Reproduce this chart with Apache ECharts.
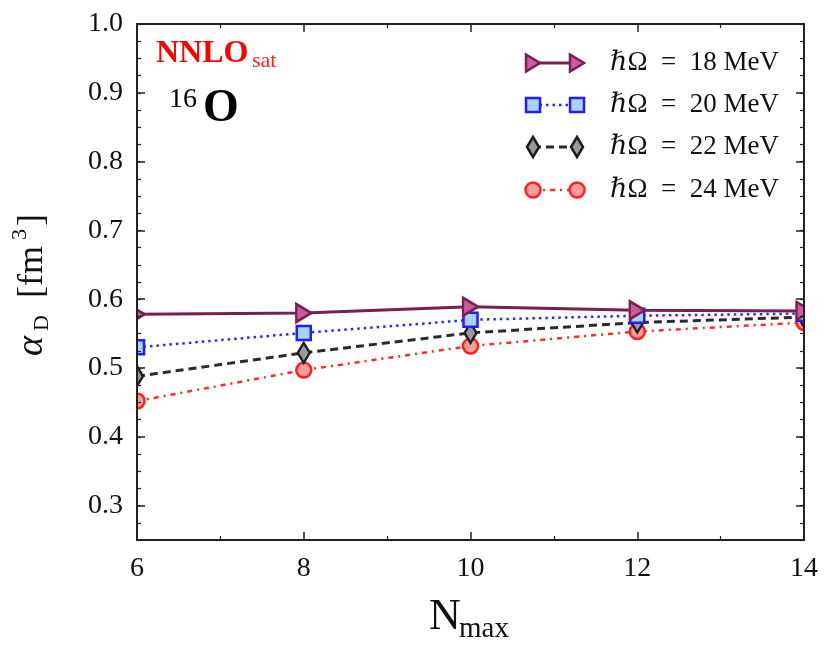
<!DOCTYPE html>
<html>
<head>
<meta charset="utf-8">
<script src="https://cdn.jsdelivr.net/npm/echarts@6/dist/echarts.min.js"></script>
<style>
html,body{margin:0;padding:0;background:#fff;}
#chart{width:831px;height:658px;}
</style>
</head>
<body>
<div id="chart"></div>
<script>
// ---- data ----
const nmax = [6, 8, 10, 12, 14];
const hw18 = [0.578, 0.580, 0.589, 0.584, 0.583];
const hw20 = [0.530, 0.551, 0.570, 0.576, 0.579];
const hw22 = [0.488, 0.522, 0.551, 0.566, 0.574];
const hw24 = [0.452, 0.497, 0.532, 0.553, 0.566];
const seriesNames = ['ℏΩ\u2002=\u200218 MeV', 'ℏΩ\u2002=\u200220 MeV', 'ℏΩ\u2002=\u200222 MeV', 'ℏΩ\u2002=\u200224 MeV'];
const xTicks = [6, 8, 10, 12, 14];
const yTicks = [0.3, 0.4, 0.5, 0.6, 0.7, 0.8, 0.9, 1.0];

const FONT = '"Liberation Serif", "DejaVu Serif", serif';
const chart = echarts.init(document.getElementById('chart'));

function pairs(ys) { return nmax.map((x, i) => [x, ys[i]]); }

const styles = [
  {line: '#7a1f50', stroke: '#7a1f50', fill: '#cc5c9e', type: 'solid', width: 3, symbol: 'triangle', size: [18, 15], rot: -90},
  {line: '#2a2aff', stroke: '#1e1eff', fill: '#a8d2ff', type: [2.5, 4], width: 2.5, symbol: 'rect', size: 14, rot: 0},
  {line: '#2b2b2b', stroke: '#1e1e1e', fill: '#9a9a9a', type: [8, 5], width: 3, symbol: 'diamond', size: [12, 20], rot: 0},
  {line: '#ff2a2a', stroke: '#ff2020', fill: '#ff9c9c', type: [5, 5, 2, 5], width: 2.5, symbol: 'circle', size: 15, rot: 0}
];
const datasets = [hw18, hw20, hw22, hw24];

const series = datasets.map((d, i) => ({
  name: seriesNames[i],
  type: 'line',
  data: pairs(d),
  xAxisIndex: 0,
  yAxisIndex: 0,
  clip: false,
  symbol: styles[i].symbol,
  symbolSize: styles[i].size,
  symbolRotate: styles[i].rot,
  showAllSymbol: true,
  z: 2 + (3 - i),
  lineStyle: {color: styles[i].line, width: styles[i].width, type: styles[i].type},
  itemStyle: {color: styles[i].fill, borderColor: styles[i].stroke, borderWidth: 2.5},
  emphasis: {disabled: true},
  animation: false
}));

const axisLine = {show: true, onZero: false, lineStyle: {color: '#222', width: 2}};
const yBase = {type: 'value', min: 0.25, max: 1.0, interval: 0.025, splitLine: {show: false}, axisLine: axisLine, z: 10};

// legend graphics
const legendRows = [63, 105, 147, 190];
const legendX1 = 533, legendX2 = 577;
const graphics = [];
// white masks outside the plot area (clip markers at frame), below axes
graphics.push({type: 'rect', shape: {x: 0, y: 0, width: 136, height: 658}, style: {fill: '#fff'}, z: 8});
graphics.push({type: 'rect', shape: {x: 805, y: 0, width: 26, height: 658}, style: {fill: '#fff'}, z: 8});

function markerShape(i, cx, cy) {
  const s = styles[i];
  const st = {fill: s.fill, stroke: s.stroke, lineWidth: 2.5};
  if (s.symbol === 'triangle') {
    return {type: 'polygon', shape: {points: [[cx - 7, cy - 8.5], [cx + 7, cy], [cx - 7, cy + 8.5]]}, style: st, z: 12};
  } else if (s.symbol === 'rect') {
    return {type: 'rect', shape: {x: cx - 7, y: cy - 7, width: 14, height: 14}, style: st, z: 12};
  } else if (s.symbol === 'diamond') {
    return {type: 'polygon', shape: {points: [[cx, cy - 10], [cx + 6, cy], [cx, cy + 10], [cx - 6, cy]]}, style: st, z: 12};
  }
  return {type: 'circle', shape: {cx: cx, cy: cy, r: 7.5}, style: st, z: 12};
}
legendRows.forEach((y, i) => {
  const s = styles[i];
  graphics.push({type: 'line', shape: {x1: legendX1, y1: y, x2: legendX2, y2: y},
    style: {stroke: s.line, lineWidth: s.width, lineDash: s.type === 'solid' ? null : s.type}, z: 11});
  graphics.push(markerShape(i, legendX1, y));
  graphics.push(markerShape(i, legendX2, y));
  graphics.push({type: 'text', x: 610, y: y, style: {text: seriesNames[i], font: '27px ' + FONT, fill: '#111', align: 'left', verticalAlign: 'middle'}, z: 12});
});

// annotations
graphics.push({type: 'text', x: 156, y: 54, style: {text: 'NNLO', font: 'bold 32px ' + FONT, fill: '#ff0000', verticalAlign: 'middle'}, z: 12});
graphics.push({type: 'text', x: 252, y: 61, style: {text: 'sat', font: '22px ' + FONT, fill: '#ff2020', verticalAlign: 'middle'}, z: 12});
graphics.push({type: 'text', x: 169, y: 100, style: {text: '16', font: '28px ' + FONT, fill: '#000', verticalAlign: 'middle'}, z: 12});
graphics.push({type: 'text', x: 203, y: 109, style: {text: 'O', font: 'bold 46px ' + FONT, fill: '#000', verticalAlign: 'middle'}, z: 12});

// x axis name N_max
graphics.push({type: 'text', x: 429, y: 617, style: {text: 'N', font: '44px ' + FONT, fill: '#111', verticalAlign: 'middle'}, z: 12});
graphics.push({type: 'text', x: 459, y: 629, style: {text: 'max', font: '29px ' + FONT, fill: '#111', verticalAlign: 'middle'}, z: 12});

// y axis name alpha_D [fm^3] (rotated)
graphics.push({type: 'group', x: 0, y: 0, rotation: Math.PI / 2, z: 12, children: [
  {type: 'text', x: -356, y: 32, style: {text: 'α', font: 'italic 38px ' + FONT, fill: '#111', verticalAlign: 'middle'}, z: 12},
  {type: 'text', x: -331, y: 42, style: {text: 'D', font: '22px ' + FONT, fill: '#111', verticalAlign: 'middle'}, z: 12},
  {type: 'text', x: -298, y: 33, style: {text: '[fm', font: '36px ' + FONT, fill: '#111', verticalAlign: 'middle'}, z: 12},
  {type: 'text', x: -240, y: 20, style: {text: '3', font: '22px ' + FONT, fill: '#111', verticalAlign: 'middle'}, z: 12},
  {type: 'text', x: -226, y: 33, style: {text: ']', font: '36px ' + FONT, fill: '#111', verticalAlign: 'middle'}, z: 12}
]});

const option = {
  backgroundColor: '#fff',
  animation: false,
  grid: {left: 137, right: 27, top: 24, bottom: 118, containLabel: false},
  xAxis: [
    {type: 'value', position: 'bottom', min: 6, max: 14, interval: 2, z: 10,
     axisLine: axisLine, splitLine: {show: false},
     axisTick: {show: true, inside: true, length: 8, lineStyle: {color: '#222', width: 1.5}},
     minorTick: {show: true, splitNumber: 2, length: 4, lineStyle: {color: '#222', width: 1.2}},
     axisLabel: {show: true, margin: 15, fontFamily: FONT, fontSize: 28, color: '#111', formatter: v => xTicks.includes(v) ? String(v) : ''}},
    {type: 'value', position: 'top', min: 6, max: 14, interval: 2, z: 10,
     axisLine: axisLine, splitLine: {show: false},
     axisTick: {show: true, inside: true, length: 8, lineStyle: {color: '#222', width: 1.5}},
     minorTick: {show: true, splitNumber: 2, length: 4, lineStyle: {color: '#222', width: 1.2}},
     axisLabel: {show: false}}
  ],
  yAxis: [
    Object.assign({}, yBase, {position: 'left',
      axisTick: {show: true, inside: true, length: 8, customValues: yTicks, lineStyle: {color: '#222', width: 1.5}},
      axisLabel: {show: true, margin: 14, customValues: yTicks, fontFamily: FONT, fontSize: 28, color: '#111', formatter: v => v.toFixed(1)}}),
    Object.assign({}, yBase, {position: 'left',
      axisTick: {show: true, inside: true, length: 4, lineStyle: {color: '#222', width: 1.2}},
      axisLabel: {show: false}}),
    Object.assign({}, yBase, {position: 'right',
      axisTick: {show: true, inside: true, length: 8, customValues: yTicks, lineStyle: {color: '#222', width: 1.5}},
      axisLabel: {show: false}}),
    Object.assign({}, yBase, {position: 'right',
      axisTick: {show: true, inside: true, length: 4, lineStyle: {color: '#222', width: 1.2}},
      axisLabel: {show: false}})
  ],
  graphic: graphics,
  series: series
};
chart.setOption(option);
</script>
</body>
</html>
